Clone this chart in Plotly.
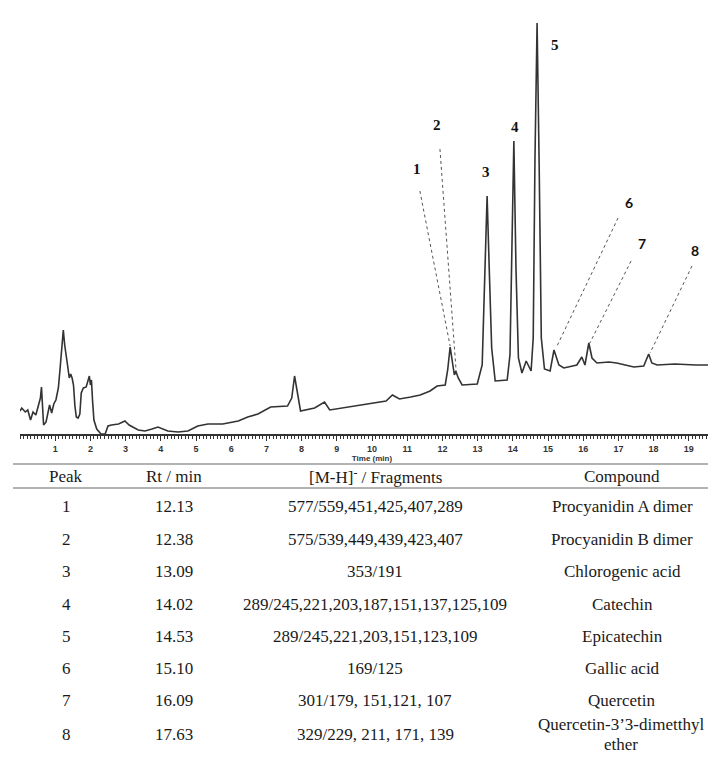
import plotly.graph_objects as go

# ---------------- chromatogram ----------------
time_min = [0.00, 0.05, 0.15, 0.22, 0.30, 0.37, 0.45, 0.52, 0.58, 0.61, 0.64, 0.67, 0.74, 0.80,
            0.84, 0.90, 0.96, 1.02, 1.09, 1.14, 1.19, 1.23, 1.27, 1.31, 1.35, 1.40, 1.44, 1.48,
            1.52, 1.56, 1.60, 1.65, 1.70, 1.74, 1.80, 1.88, 1.94, 1.97, 2.00, 2.03, 2.06, 2.10,
            2.18, 2.30, 2.42, 2.50, 2.60, 2.80, 2.98, 3.10, 3.36, 3.55, 3.75, 3.92, 4.20, 4.49,
            4.77, 5.05, 5.34, 5.76, 6.20, 6.47, 6.76, 7.12, 7.60, 7.72, 7.80, 7.89, 7.97, 8.37,
            8.65, 8.80, 9.30, 9.70, 10.07, 10.40, 10.58, 10.78, 11.10, 11.37, 11.65, 11.85, 12.08,
            12.15, 12.22, 12.30, 12.34, 12.38, 12.45, 12.56, 12.99, 13.13, 13.20, 13.27, 13.33,
            13.40, 13.50, 13.84, 13.92, 13.97, 14.03, 14.09, 14.16, 14.26, 14.38, 14.52, 14.58,
            14.63, 14.69, 14.75, 14.81, 14.90, 15.06, 15.17, 15.31, 15.45, 15.82, 15.96, 16.05,
            16.16, 16.25, 16.39, 16.73, 16.95, 17.44, 17.72, 17.86, 17.95, 18.10, 18.60, 19.20, 19.95]
signal = [23, 26, 22, 24, 14, 22, 19, 28, 36, 47, 26, 9, 12, 23,
          29, 21, 30, 34, 46, 66, 86, 104, 89, 76, 69, 56, 60, 56,
          49, 28, 17, 16, 20, 41, 46, 47, 56, 58, 49, 54, 34, 14,
          5, 0, 0, 8, 9, 10, 13, 9, 4, 3, 5, 7, 3, 2,
          3, 8, 10, 10, 13, 17, 20, 27, 28, 36, 58, 39, 23, 26,
          32, 24, 27, 29, 31, 33, 39, 35, 37, 39, 43, 48, 49,
          64, 87, 68, 59, 63, 56, 49, 50, 69, 159, 238, 166,
          86, 53, 54, 79, 176, 293, 166, 76, 61, 73, 63, 96,
          276, 411, 266, 96, 65, 63, 84, 69, 66, 69, 77, 69,
          91, 76, 71, 72, 71, 67, 68, 80, 71, 69, 70, 69, 69]

# ---------------- peak identification table ----------------
peak_ids = ["1", "2", "3", "4", "5", "6", "7", "8"]
rt_min = ["12.13", "12.38", "13.09", "14.02", "14.53", "15.10", "16.09", "17.63"]
fragments = ["577/559,451,425,407,289",
             "575/539,449,439,423,407",
             "353/191",
             "289/245,221,203,187,151,137,125,109",
             "289/245,221,203,151,123,109",
             "169/125",
             "301/179, 151,121, 107",
             "329/229, 211, 171, 139"]
compounds = ["Procyanidin A dimer", "Procyanidin B dimer", "Chlorogenic acid", "Catechin",
             "Epicatechin", "Gallic acid", "Quercetin", "Quercetin-3\u20193-dimetthyl<br>ether"]
headers = ["Peak", "Rt / min", "[M-H]<sup>-</sup> / Fragments", "Compound"]

# ---------------- layout constants ----------------
W, H = 716, 757
PL, PR, PT, PB = 12, 716, 0, 426   # plot area in pixels

def px(xp):
    return (xp - PL) / (PR - PL)

def py(yp):
    return (PB - yp) / (PB - PT)

# peak label positions (data coords) and leader lines
label_pos = {"1": (11.28, 265), "2": (11.85, 309), "3": (13.24, 262), "4": (14.06, 307),
             "5": (15.20, 389), "6": (17.30, 232), "7": (17.67, 191), "8": (19.18, 184)}
leaders = {"1": ((11.36, 243), (12.22, 88)), "2": ((11.93, 285), (12.39, 63)),
           "6": ((16.99, 216), (15.23, 86)), "7": ((17.36, 173), (16.19, 91)),
           "8": ((19.09, 168), (17.90, 81))}

fig = go.Figure()
fig.add_trace(go.Scatter(x=time_min, y=signal, mode="lines",
                         line=dict(color="#333333", width=1.6), hoverinfo="skip",
                         showlegend=False))

annotations = []
shapes = []

for pid in peak_ids:
    t, h = label_pos[pid]
    serif = pid in ("1", "2", "3", "4", "5")
    annotations.append(dict(x=t, y=h, xref="x", yref="y", text=pid, showarrow=False,
                            font=dict(family="Liberation Serif" if serif else "Lato",
                                      size=15 if serif else 14, color="#111", weight="bold")))
for pid, ((t0, h0), (t1, h1)) in leaders.items():
    shapes.append(dict(type="line", xref="x", yref="y", x0=t0, y0=h0, x1=t1, y1=h1,
                       line=dict(color="#555", width=1, dash="dot")))

# table
col_x = [58, 166, 367, 614]
header_y = 468
row_y = [499, 531, 563, 596, 628, 660, 692, 726]
tfont = dict(family="Liberation Serif", size=17, color="#1a1a1a")

def cell(xc, yc, txt):
    annotations.append(dict(x=px(xc), y=py(yc), xref="paper", yref="paper", text=txt,
                            showarrow=False, font=tfont, xanchor="center", yanchor="middle",
                            borderpad=0))

for cx, txt in zip(col_x, headers):
    cell(cx, header_y, txt)

for i, pid in enumerate(peak_ids):
    ry = row_y[i]
    for cx, txt in zip(col_x[:3], [pid, rt_min[i], fragments[i]]):
        cell(cx, ry, txt)
    ctext = compounds[i]
    if "<br>" in ctext:
        l1, l2 = ctext.split("<br>")
        cell(613, ry - 10, l1)
        cell(613, ry + 10, l2)
    else:
        cell(col_x[3], ry, ctext)

for ly in (456, 480):
    shapes.append(dict(type="line", xref="paper", yref="paper", x0=px(5), x1=px(716),
                       y0=py(ly), y1=py(ly), line=dict(color="#9a9a9a", width=1.5)))

fig.update_layout(
    width=W, height=H,
    margin=dict(l=PL, r=W - PR, t=PT, b=H - PB, pad=0),
    paper_bgcolor="white", plot_bgcolor="white",
    showlegend=False,
    xaxis=dict(range=[0, 20], tickvals=list(range(1, 20)), ticks="outside", ticklen=5,
               tickwidth=1.2, tickcolor="#333", showline=True, linecolor="#333", linewidth=1.5,
               showgrid=False, zeroline=False, automargin=False,
               tickfont=dict(family="Liberation Sans", size=9, color="#333", weight="bold"),
               title=dict(text="Time (min)", standoff=1,
                          font=dict(family="Liberation Sans", size=8, color="#333", weight="bold")),
               minor=dict(dtick=0.1, tick0=0, ticks="outside", ticklen=3, tickwidth=1,
                          tickcolor="#333", showgrid=False)),
    yaxis=dict(range=[0, 426], visible=False, showgrid=False, zeroline=False, fixedrange=True),
    annotations=annotations, shapes=shapes,
)

fig.write_html("out.html")
